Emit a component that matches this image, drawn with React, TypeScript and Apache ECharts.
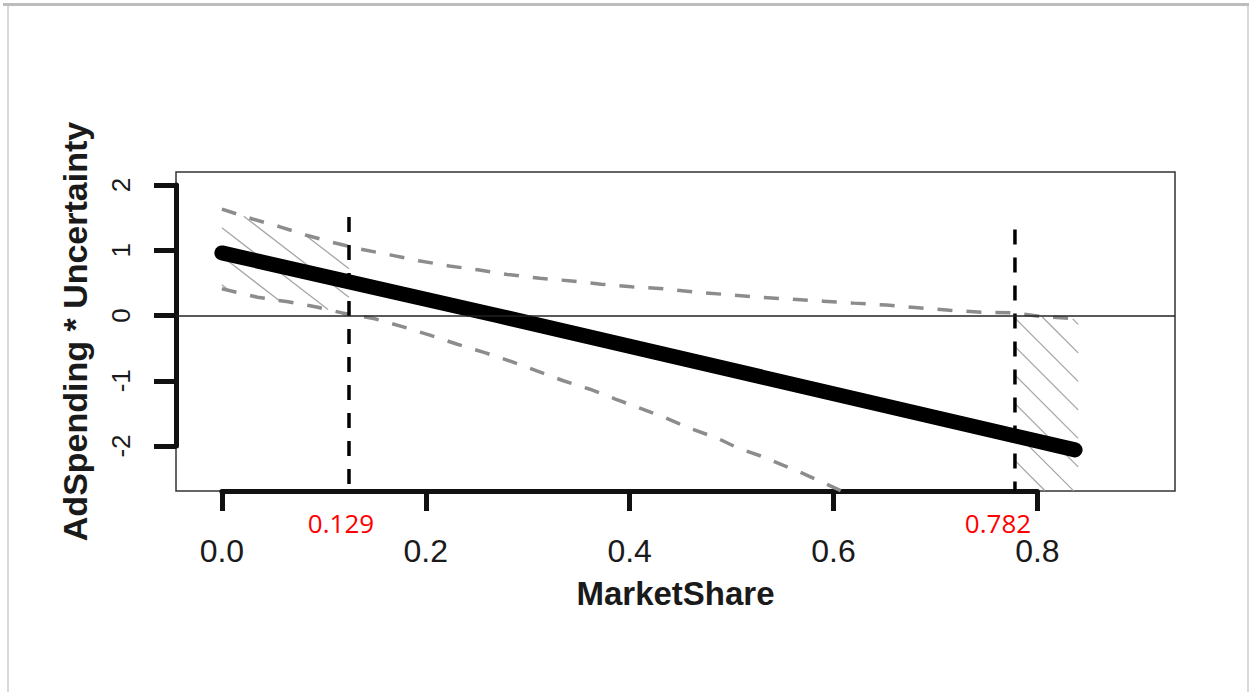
import React, { useEffect, useRef } from "react";
import * as echarts from "echarts";

// ---------- data ----------
const X_MIN = -0.045;
const X_MAX = 0.935;
const Y_MIN = -2.69;
const Y_MAX = 2.2;

const xTickMin = 0;
const xTickMax = 0.8;
const xTickStep = 0.2;
const yTickMin = -2;
const yTickMax = 2;
const yTickStep = 1;

const xTitle = "MarketShare";
const yTitle = "AdSpending * Uncertainty";

// marginal effect line
const mainX = [0.0, 0.27, 0.837];
const mainY = [0.96, 0.0, -2.06];

// upper confidence band
const upperX = [0.0, 0.03, 0.057, 0.083, 0.109, 0.135, 0.165, 0.193, 0.223, 0.251, 0.28, 0.312, 0.343, 0.372, 0.402, 0.433, 0.464, 0.496, 0.527, 0.559, 0.59, 0.62, 0.652, 0.683, 0.714, 0.745, 0.777, 0.806, 0.84];
const upperY = [1.63, 1.48, 1.36, 1.23, 1.12, 1.02, 0.93, 0.84, 0.76, 0.7, 0.63, 0.57, 0.53, 0.48, 0.44, 0.41, 0.36, 0.32, 0.28, 0.25, 0.22, 0.19, 0.16, 0.12, 0.08, 0.05, 0.04, -0.02, -0.05];

// lower confidence band
const lowerX = [0.0, 0.035, 0.065, 0.093, 0.118, 0.15, 0.177, 0.204, 0.231, 0.258, 0.285, 0.309, 0.335, 0.361, 0.386, 0.41, 0.437, 0.461, 0.486, 0.506, 0.528, 0.567, 0.608];
const lowerY = [0.41, 0.28, 0.21, 0.13, 0.04, -0.05, -0.17, -0.3, -0.44, -0.57, -0.71, -0.85, -1.0, -1.13, -1.28, -1.42, -1.58, -1.74, -1.88, -2.03, -2.15, -2.4, -2.69];

// Johnson-Neyman points
const jnX = [0.1247, 0.778];
const jnTop = [1.51, 1.32];
const jnLabels = ["0.129", "0.782"];

// hatched regions of significance [start, end]
const hatchStart = [0.0, 0.778];
const hatchEnd = [0.1247, 0.84];

// ---------- layout / style ----------
const G1 = { left: 176, top: 172, width: 999, height: 319 };
const HATCH_SLOPE = [0.77, 1.0];
const HATCH_PHASE = [0, 15.7];
const HATCH_SPACING = 28.5;
const FONT = "'Liberation Sans', Arial, Helvetica, sans-serif";
const TEXT = "#1a1a1a";

function interp(xs: number[], ys: number[], x: number): number | null {
  if (x < xs[0] - 1e-9) return null;
  if (x > xs[xs.length - 1] + 1e-9) return null;
  for (let i = 0; i < xs.length - 1; i++) {
    if (x <= xs[i + 1]) {
      const t = (x - xs[i]) / (xs[i + 1] - xs[i] || 1);
      return ys[i] + t * (ys[i + 1] - ys[i]);
    }
  }
  return ys[ys.length - 1];
}

function buildOption() {
  const xr = X_MAX - X_MIN;
  const yr = Y_MAX - Y_MIN;
  const g2Left = G1.left + ((xTickMin - X_MIN) / xr) * G1.width;
  const g2Width = ((xTickMax - xTickMin) / xr) * G1.width;
  const g2Top = G1.top + ((Y_MAX - yTickMax) / yr) * G1.height;
  const g2Height = ((yTickMax - yTickMin) / yr) * G1.height;
  const xOffset = G1.top + G1.height - (g2Top + g2Height);
  const yOffset = g2Left - G1.left;

  const renderHatch = (params: any, api: any) => {
    const idx = params.dataIndex;
    const xa = api.value(0);
    const xb = api.value(1);
    const slope = HATCH_SLOPE[idx];
    const phase = HATCH_PHASE[idx];
    const pa = api.coord([xa, 0]);
    const pb = api.coord([xb, 0]);
    const n = Math.max(2, Math.ceil((pb[0] - pa[0]) * 2));
    const px: number[] = [];
    const up: number[] = [];
    const lo: number[] = [];
    for (let i = 0; i <= n; i++) {
      const xv = xa + ((xb - xa) * i) / n;
      let u = interp(upperX, upperY, xv);
      let l = interp(lowerX, lowerY, xv);
      if (u === null || u > Y_MAX) u = Y_MAX;
      if (l === null || l < Y_MIN) l = Y_MIN;
      const pu = api.coord([xv, u]);
      const pl = api.coord([xv, l]);
      px.push(pu[0]);
      up.push(pu[1]);
      lo.push(pl[1]);
    }
    const minUp = Math.min(...up);
    const maxLo = Math.max(...lo);
    const cMin = minUp - slope * px[n];
    const cMax = maxLo - slope * px[0];
    const children: any[] = [];
    let c = Math.ceil((cMin - phase) / HATCH_SPACING) * HATCH_SPACING + phase;
    for (; c <= cMax; c += HATCH_SPACING) {
      let start = -1;
      for (let i = 0; i <= n + 1; i++) {
        let inside = false;
        if (i <= n) {
          const y = slope * px[i] + c;
          inside = y >= up[i] && y <= lo[i];
        }
        if (inside && start < 0) start = i;
        if (!inside && start >= 0) {
          const e = i - 1;
          if (e > start) {
            children.push({
              type: "line",
              shape: { x1: px[start], y1: slope * px[start] + c, x2: px[e], y2: slope * px[e] + c },
              style: { stroke: "#a6a6a6", lineWidth: 1.3 },
            });
          }
          start = -1;
        }
      }
    }
    return { type: "group", children };
  };

  const series: any[] = [
    {
      type: "custom",
      xAxisIndex: 0,
      yAxisIndex: 0,
      z: 1,
      silent: true,
      renderItem: renderHatch,
      encode: { x: [0, 1], y: 2 },
      data: hatchStart.map((s, i) => [s, hatchEnd[i], 0]),
    },
    {
      type: "line",
      xAxisIndex: 0,
      yAxisIndex: 0,
      z: 2,
      symbol: "none",
      silent: true,
      lineStyle: { color: "#8c8c8c", width: 3.5, type: [15, 14] },
      data: upperX.map((x, i) => [x, upperY[i]]),
    },
    {
      type: "line",
      xAxisIndex: 0,
      yAxisIndex: 0,
      z: 2,
      symbol: "none",
      silent: true,
      lineStyle: { color: "#8c8c8c", width: 3.5, type: [15, 14] },
      data: lowerX.map((x, i) => [x, lowerY[i]]),
    },
    ...jnX.map((x, i) => ({
      type: "line",
      xAxisIndex: 0,
      yAxisIndex: 0,
      z: 3,
      symbol: "none",
      silent: true,
      lineStyle: { color: "#000", width: 3.5, type: [15, 13] },
      data: [
        [x, jnTop[i]],
        [x, Y_MIN],
      ],
    })),
    {
      type: "line",
      xAxisIndex: 0,
      yAxisIndex: 0,
      z: 4,
      symbol: "none",
      silent: true,
      lineStyle: { color: "#000", width: 15, cap: "round" },
      data: mainX.map((x, i) => [x, mainY[i]]),
      markLine: {
        silent: true,
        symbol: "none",
        label: { show: false },
        lineStyle: { color: "#222", width: 1.5, type: "solid" },
        data: [{ yAxis: 0 }],
      },
    },
  ];

  const hiddenAxisParts = {
    axisLine: { show: false, onZero: false },
    axisTick: { show: false },
    axisLabel: { show: false },
    splitLine: { show: false },
  };

  return {
    animation: false,
    backgroundColor: "#ffffff",
    grid: [
      {
        left: G1.left,
        top: G1.top,
        width: G1.width,
        height: G1.height,
        show: true,
        borderColor: "#333",
        borderWidth: 1.5,
        backgroundColor: "transparent",
        containLabel: false,
      },
      {
        left: g2Left,
        top: g2Top,
        width: g2Width,
        height: g2Height,
        show: false,
        containLabel: false,
      },
    ],
    xAxis: [
      {
        type: "value",
        gridIndex: 0,
        min: X_MIN,
        max: X_MAX,
        ...hiddenAxisParts,
        name: xTitle,
        nameLocation: "middle",
        nameGap: 86,
        nameTextStyle: { fontFamily: FONT, fontSize: 33, fontWeight: "bold", color: TEXT },
      },
      {
        type: "value",
        gridIndex: 1,
        min: xTickMin,
        max: xTickMax,
        interval: xTickStep,
        position: "bottom",
        offset: xOffset,
        axisLine: { show: true, onZero: false, lineStyle: { color: "#111", width: 5 } },
        axisTick: { show: true, length: 20, lineStyle: { color: "#111", width: 5 } },
        axisLabel: {
          show: true,
          margin: 44,
          fontFamily: FONT,
          fontSize: 32,
          color: TEXT,
          formatter: (v: number) => v.toFixed(1),
        },
        splitLine: { show: false },
      },
    ],
    yAxis: [
      {
        type: "value",
        gridIndex: 0,
        min: Y_MIN,
        max: Y_MAX,
        ...hiddenAxisParts,
        name: yTitle,
        nameLocation: "middle",
        nameRotate: 90,
        nameGap: 84,
        nameTextStyle: { fontFamily: FONT, fontSize: 34, fontWeight: "bold", color: TEXT },
      },
      {
        type: "value",
        gridIndex: 1,
        min: yTickMin,
        max: yTickMax,
        interval: yTickStep,
        position: "left",
        offset: yOffset,
        axisLine: { show: true, onZero: false, lineStyle: { color: "#111", width: 5 } },
        axisTick: { show: true, length: 22, lineStyle: { color: "#111", width: 5 } },
        axisLabel: {
          show: true,
          rotate: 90,
          margin: 42,
          fontFamily: FONT,
          fontSize: 26,
          color: TEXT,
        },
        splitLine: { show: false },
      },
    ],
    series,
    graphic: [
      { type: "rect", left: 3, top: 3, shape: { width: 1246, height: 3 }, style: { fill: "#bdbdbd" }, silent: true },
      { type: "rect", left: 7, top: 6, shape: { width: 2, height: 686 }, style: { fill: "#d9d9d9" }, silent: true },
      { type: "rect", left: 1247, top: 6, shape: { width: 2, height: 686 }, style: { fill: "#d9d9d9" }, silent: true },
      {
        type: "text",
        x: 341,
        y: 523,
        style: { text: jnLabels[0], fill: "#ff0000", font: "26px 'Open Sans', sans-serif", textAlign: "center", textVerticalAlign: "middle" },
        silent: true,
      },
      {
        type: "text",
        x: 998,
        y: 523,
        style: { text: jnLabels[1], fill: "#ff0000", font: "26px 'Open Sans', sans-serif", textAlign: "center", textVerticalAlign: "middle" },
        silent: true,
      },
    ],
  };
}

export default function App() {
  const ref = useRef<HTMLDivElement>(null);
  useEffect(() => {
    if (!ref.current) return;
    const chart = echarts.init(ref.current, null, { renderer: "svg" });
    chart.setOption(buildOption() as any);
    return () => chart.dispose();
  }, []);
  return (
    <div
      ref={ref}
      style={{ position: "fixed", left: 0, top: 0, width: 1249, height: 692, background: "#fff" }}
    />
  );
}
